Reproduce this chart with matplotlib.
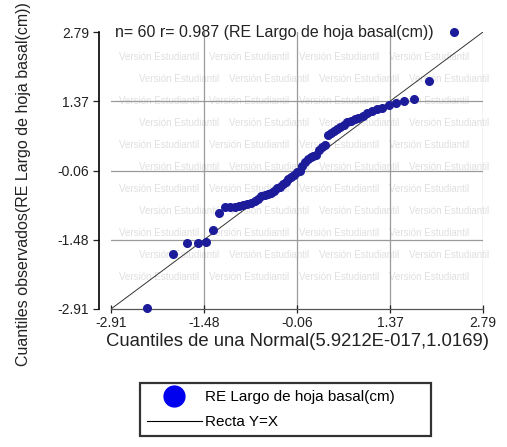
import matplotlib
matplotlib.use("Agg")
import matplotlib.pyplot as plt
from matplotlib.lines import Line2D

# QQ plot data (theoretical normal quantiles vs observed residuals), n = 60
teoricos = [-2.352, -1.960, -1.740, -1.580, -1.452, -1.343, -1.248, -1.162, -1.084, -1.012,
            -0.945, -0.882, -0.822, -0.765, -0.710, -0.656, -0.605, -0.555, -0.506, -0.460,
            -0.413, -0.367, -0.323, -0.279, -0.235, -0.192, -0.149, -0.106, -0.063, -0.021,
            0.021, 0.063, 0.106, 0.149, 0.192, 0.235, 0.279, 0.323, 0.367, 0.413,
            0.460, 0.506, 0.555, 0.605, 0.656, 0.710, 0.765, 0.822, 0.882, 0.945,
            1.012, 1.084, 1.162, 1.248, 1.343, 1.452, 1.580, 1.740, 1.960, 2.352]
observados = [-2.88, -1.78, -1.56, -1.56, -1.525, -1.285, -0.93, -0.817, -0.81, -0.805,
              -0.80, -0.78, -0.75, -0.73, -0.69, -0.65, -0.585, -0.565, -0.55, -0.52,
              -0.48, -0.42, -0.39, -0.34, -0.29, -0.245, -0.19, -0.15, -0.10, -0.06,
              0.03, 0.11, 0.18, 0.22, 0.23, 0.25, 0.36, 0.43, 0.46, 0.67,
              0.72, 0.75, 0.79, 0.84, 0.88, 0.93, 0.96, 0.99, 1.03, 1.07,
              1.12, 1.17, 1.20, 1.225, 1.28, 1.32, 1.36, 1.42, 1.78, 2.79]
ticks = [-2.91, -1.48, -0.06, 1.37, 2.79]
tick_labels = ["-2.91", "-1.48", "-0.06", "1.37", "2.79"]
recta = [-2.91, 2.79]

plt.rcParams['font.family'] = ['Liberation Sans', 'DejaVu Sans']

fig = plt.figure(figsize=(5.07, 4.47), dpi=100)

ax = fig.add_axes([111 / 507, 1 - 309 / 447, 372 / 507, 277 / 447])
ax.patch.set_alpha(0)

# faint "Versión Estudiantil" watermark inside the plot area
for r in range(11):
    off = 0 if r % 2 == 0 else 20
    for c in range(4):
        ax.text((8 + off + c * 90) / 372, 1 - (25 + r * 22) / 277, "Versión Estudiantil",
                transform=ax.transAxes, fontsize=7, color='#e0e0e0', va='center', zorder=0)

for v in ticks[1:]:
    ax.axvline(v, color='#9a9a9a', lw=0.9, zorder=1)
for v in ticks[1:4]:
    ax.axhline(v, color='#9a9a9a', lw=0.9, zorder=1)

ax.plot(recta, recta, color='#333333', lw=0.7, zorder=2)
ax.plot(teoricos, observados, 'o', color='#1c1c9a', ms=5.5, zorder=3, clip_on=False)

ax.set_xlim(-2.91, 2.79)
ax.set_ylim(-2.91, 2.79)
ax.set_xticks(ticks)
ax.set_xticklabels(tick_labels)
ax.set_yticks(ticks)
ax.set_yticklabels(tick_labels)
ax.tick_params(axis='both', labelsize=10, colors='#222222')
ax.tick_params(axis='x', direction='inout', length=6, width=0.9, pad=2)
ax.tick_params(axis='y', direction='out', length=4, width=0.9, pad=3)

ax.spines['top'].set_visible(False)
ax.spines['right'].set_visible(False)
ax.spines['left'].set_position(('outward', 9))
ax.spines['left'].set_linewidth(1.2)
ax.spines['bottom'].set_color('#555555')
ax.spines['bottom'].set_linewidth(0.9)

ax.text(0.01, 1.0, "n= 60 r= 0.987 (RE Largo de hoja basal(cm))", transform=ax.transAxes,
        fontsize=11.5, va='center', ha='left', color='#222222')

ax.set_xlabel("Cuantiles de una Normal(5.9212E-017,1.0169)", fontsize=13.3, color='#222222', labelpad=2)
ax.set_ylabel("Cuantiles observados(RE Largo de hoja basal(cm))", fontsize=11.5, color='#222222')
ax.yaxis.set_label_coords(-0.215, 0.45)

handles = [Line2D([], [], marker='o', color='#0000ee', ls='none', ms=15),
           Line2D([], [], color='black', lw=0.8)]
leg = fig.legend(handles, ["RE Largo de hoja basal(cm)       ", "Recta Y=X"],
                 loc='upper left', bbox_to_anchor=(140 / 507, 1 - 383 / 447),
                 fontsize=11, frameon=True, fancybox=False, handlelength=3.6,
                 borderpad=0.45, labelspacing=0.75, handletextpad=0.2, borderaxespad=0)
leg.get_frame().set_edgecolor('black')
leg.get_frame().set_linewidth(1.6)

fig.savefig("out.png", dpi=100)
